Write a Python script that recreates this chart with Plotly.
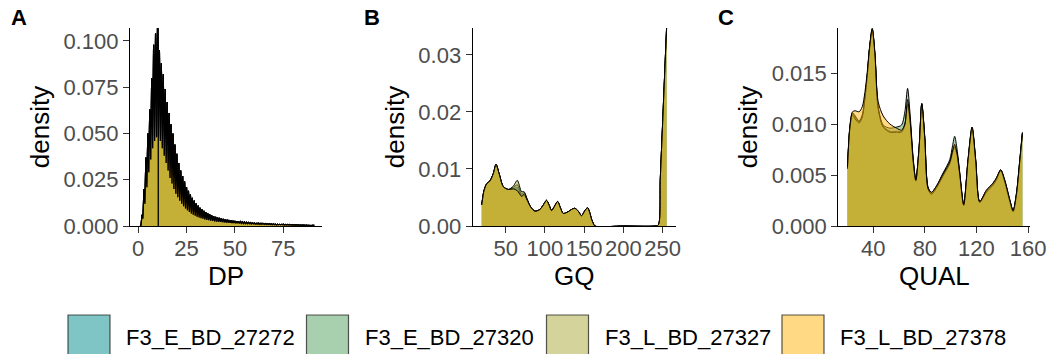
import plotly.graph_objects as go
from plotly.subplots import make_subplots

# ---------------- data ----------------
samples = ["F3_E_BD_27272", "F3_E_BD_27320", "F3_L_BD_27327", "F3_L_BD_27378"]
fill_colors = ["rgba(0,139,139,0.5)", "rgba(82,160,94,0.5)",
               "rgba(170,168,56,0.5)", "rgba(255,179,8,0.5)"]

# DP: integer depth -> spiky kernel density (peak at each integer, dip between)
dp_start = 1
dp_peak = [0.0005, 0.006, 0.020, 0.037, 0.050, 0.063, 0.080, 0.098, 0.104, 0.107,
           0.095, 0.088, 0.082, 0.074, 0.067, 0.061, 0.055, 0.050, 0.044, 0.039,
           0.034, 0.030, 0.027, 0.024, 0.021, 0.019, 0.017, 0.0152, 0.0137, 0.0123,
           0.0110, 0.0099, 0.0090, 0.0082, 0.0075, 0.0069, 0.0063, 0.0058, 0.0054, 0.0050,
           0.0047, 0.0044, 0.0041, 0.0038, 0.0036, 0.0034, 0.0032, 0.0030, 0.0028, 0.0027,
           0.0025, 0.0024, 0.0023, 0.0022, 0.0021, 0.0020, 0.0019, 0.0018, 0.0017, 0.0016,
           0.0015, 0.0015, 0.0014, 0.0014, 0.0013, 0.0013, 0.0012, 0.0012, 0.0011, 0.0011,
           0.0010, 0.0010, 0.0009, 0.0009, 0.0009, 0.0008, 0.0008, 0.0008, 0.0007, 0.0007,
           0.0007, 0.0006, 0.0006, 0.0006, 0.0005, 0.0005, 0.0005, 0.0004, 0.0004, 0.0004,
           0.0003]
dp_trough = [0.0003, 0.004, 0.012, 0.021, 0.029, 0.036, 0.042, 0.046, 0.048, 0.048,
             0.046, 0.042, 0.038, 0.034, 0.030, 0.026, 0.023, 0.020, 0.0175, 0.0155,
             0.0137, 0.0121, 0.0107, 0.0095, 0.0085, 0.0076, 0.0068, 0.0061, 0.0055, 0.0050,
             0.0046, 0.0042, 0.0039, 0.0036, 0.0033, 0.0031, 0.0029, 0.0027, 0.0025, 0.0024,
             0.0023, 0.0022, 0.0021, 0.0020, 0.0019, 0.0018, 0.0017, 0.0016, 0.0016, 0.0015,
             0.0015, 0.0014, 0.0014, 0.0013, 0.0013, 0.0012, 0.0012, 0.0011, 0.0011, 0.0010,
             0.0010, 0.0009, 0.0009, 0.0009, 0.0008, 0.0008, 0.0008, 0.0007, 0.0007, 0.0007,
             0.0006, 0.0006, 0.0006, 0.0006, 0.0005, 0.0005, 0.0005, 0.0005, 0.0004, 0.0004,
             0.0004, 0.0004, 0.0003, 0.0003, 0.0003, 0.0003, 0.0002, 0.0002, 0.0002, 0.0002]
dp_marker = 10.4

# GQ densities
gq_x = [19.5, 22.4, 25.8, 30, 34.3, 37.7, 42, 47, 53.4, 59.8,
        64.8, 70.3, 73.5, 77.5, 82, 87.3, 93.6, 98, 102.1, 105.5,
        108.5, 112, 116.1, 120, 123.3, 129.6, 134, 138.1, 142.5, 146.6,
        150.5, 154.3, 157, 159.4, 161.5, 163.6, 200, 240, 244.5, 247,
        250, 252.5, 255]
gq_shared_head = [0.0037, 0.0062, 0.0074, 0.0079, 0.0092, 0.0108, 0.0090, 0.0069, 0.0064]
gq_mid = {
    "F3_E_BD_27272": [0.0066, 0.0067, 0.0053, 0.0055, 0.0045],
    "F3_E_BD_27320": [0.0068, 0.0072, 0.0056, 0.0058, 0.0046],
    "F3_L_BD_27327": [0.0070, 0.0080, 0.0060, 0.0060, 0.0047],
    "F3_L_BD_27378": [0.0065, 0.0062, 0.0052, 0.0055, 0.0045],
}
gq_shared_tail = [0.0033, 0.0026, 0.0029, 0.0037, 0.0045, 0.0036,
                  0.0027, 0.0034, 0.0043, 0.0031, 0.0022, 0.0025, 0.0029, 0.0031, 0.0026, 0.0018,
                  0.0026, 0.0032, 0.0024, 0.0012, 0.0005, 0.0, 0.0, 0.0, 0.0002, 0.0083,
                  0.0182, 0.0265, 0.0347]

# QUAL densities
qual_x = [20, 21.9, 23.9, 26, 29, 31.5, 33.5, 35.5, 37, 39.2,
          41.3, 43.8, 47.7, 52.9, 58, 61.9, 64.5, 66.6, 68.4, 71,
          73, 75.6, 77.6, 79.9, 82.5, 85.1, 88.9, 94.1, 99.3, 101.5,
          103.1, 105, 107, 110.1, 113.5, 116.6, 119.4, 122.5, 127.7, 132.8,
          135.4, 138.8, 141.9, 145.8, 148.4, 151, 153.6, 155.6]
qual_y = {
    "F3_E_BD_27272": [.0057, .0097, .0110, .0107, .0102, .0108, .0125, .0150, .0173, .0193,
                      .0168, .0116, .0098, .0093, .0093, .0093, .0100, .0120, .0105, .0063,
                      .0045, .0078, .0120, .0087, .0037, .0032, .0038, .0050, .0062, .0073,
                      .0078, .0070, .0051, .0021, .0065, .0096, .0064, .0024, .0034, .0041,
                      .0046, .0055, .0044, .0025, .0015, .0031, .0064, .0091],
    "F3_E_BD_27320": [.0057, .0097, .0111, .0108, .0103, .0109, .0126, .0150, .0173, .0193,
                      .0168, .0117, .0099, .0096, .0097, .0099, .0112, .0135, .0112, .0066,
                      .0045, .0078, .0120, .0088, .0038, .0033, .0039, .0052, .0065, .0079,
                      .0088, .0075, .0053, .0021, .0065, .0097, .0065, .0024, .0035, .0042,
                      .0047, .0055, .0045, .0026, .0015, .0032, .0065, .0092],
    "F3_L_BD_27327": [.0056, .0096, .0109, .0105, .0101, .0107, .0124, .0149, .0172, .0192,
                      .0167, .0115, .0097, .0092, .0092, .0092, .0099, .0119, .0104, .0062,
                      .0044, .0077, .0119, .0086, .0036, .0031, .0037, .0049, .0061, .0072,
                      .0077, .0069, .0050, .0020, .0064, .0095, .0063, .0023, .0033, .0040,
                      .0045, .0054, .0043, .0024, .0014, .0030, .0063, .0090],
    "F3_L_BD_27378": [.0058, .0098, .0112, .0113, .0112, .0117, .0131, .0153, .0174, .0194,
                      .0170, .0122, .0108, .0100, .0096, .0094, .0100, .0124, .0107, .0064,
                      .0045, .0079, .0120, .0087, .0037, .0033, .0039, .0051, .0063, .0074,
                      .0080, .0071, .0052, .0021, .0066, .0097, .0065, .0024, .0035, .0042,
                      .0047, .0055, .0045, .0026, .0015, .0032, .0065, .0091],
}

# ---------------- figure ----------------
W, H = 1048, 354
FONT = "Liberation Sans, Arial, sans-serif"

fig = make_subplots(rows=1, cols=3)

dp_x, dp_y = [], []
for i, p in enumerate(dp_peak):
    dp_x.append(dp_start + i)
    dp_y.append(p)
    if i < len(dp_trough):
        dp_x.append(dp_start + i + 0.5)
        dp_y.append(dp_trough[i])

for name, fc in zip(samples, fill_colors):
    fig.add_trace(go.Scatter(x=dp_x, y=dp_y, mode="lines", fill="tozeroy",
                             fillcolor=fc, line=dict(color="black", width=1.2), name=name,
                             showlegend=False), row=1, col=1)
for name, fc in zip(samples, fill_colors):
    ys = gq_shared_head + gq_mid[name] + gq_shared_tail
    fig.add_trace(go.Scatter(x=gq_x, y=ys, mode="lines", fill="tozeroy",
                             fillcolor=fc, line=dict(color="black", width=1,
                                                     shape="spline", smoothing=0.8),
                             name=name, showlegend=False), row=1, col=2)
for name, fc in zip(samples, fill_colors):
    fig.add_trace(go.Scatter(x=qual_x, y=qual_y[name], mode="lines", fill="tozeroy",
                             fillcolor=fc, line=dict(color="black", width=1,
                                                     shape="spline", smoothing=0.8),
                             name=name, showlegend=False), row=1, col=3)

fig.add_vline(x=dp_marker, line=dict(color="black", width=1.3), row=1, col=1)

def px_x(v):
    return v / W

def px_y(v):
    return 1 - v / H

axis_common = dict(showline=True, linecolor="black", linewidth=1.3,
                   ticks="outside", ticklen=6, tickwidth=1.3, tickcolor="#333333",
                   showgrid=False, zeroline=False, automargin=False, tickangle=0,
                   tickfont=dict(family=FONT, size=22, color="#4D4D4D"),
                   title_font=dict(family=FONT, size=26, color="black"))

y_dom = [px_y(226), px_y(28)]
x_specs = [
    dict(domain=[px_x(130), px_x(322)], range=[-4.2, 95.0], tickvals=[0, 25, 50, 75], title="DP"),
    dict(domain=[px_x(472.7), px_x(676)], range=[8, 267], tickvals=[50, 100, 150, 200, 250], title="GQ"),
    dict(domain=[px_x(838.3), px_x(1030)], range=[12.9, 161.5], tickvals=[40, 80, 120, 160], title="QUAL"),
]
y_specs = [
    dict(range=[0, 0.107], tickvals=[0, 0.025, 0.05, 0.075, 0.1], tickformat=".3f"),
    dict(range=[0, 0.0347], tickvals=[0, 0.01, 0.02, 0.03], tickformat=".2f"),
    dict(range=[0, 0.01942], tickvals=[0, 0.005, 0.01, 0.015], tickformat=".3f"),
]
for i in range(3):
    xs = x_specs[i]
    ys = y_specs[i]
    fig.update_xaxes(domain=xs["domain"], range=xs["range"], tickvals=xs["tickvals"],
                     ticklabelstandoff=-4, row=1, col=i + 1, **axis_common)
    fig.update_yaxes(domain=y_dom, range=ys["range"], tickvals=ys["tickvals"],
                     tickformat=ys["tickformat"],
                     title=dict(text="density", standoff=6), row=1, col=i + 1, **axis_common)
    # x-axis title, centred under the panel
    fig.add_annotation(text=xs["title"], x=(xs["domain"][0] + xs["domain"][1]) / 2,
                       y=px_y(276), xref="paper", yref="paper",
                       xanchor="center", yanchor="middle", showarrow=False,
                       font=dict(family=FONT, size=26, color="black"))

# panel tags
for tag, x0 in zip(["A", "B", "C"], [9, 362, 716]):
    fig.add_annotation(text="<b>%s</b>" % tag, x=px_x(x0), y=px_y(18), xref="paper", yref="paper",
                       xanchor="left", yanchor="middle", showarrow=False,
                       font=dict(family=FONT, size=22, color="black"))

# legend drawn as keys + labels along the bottom
key_left = [68, 306.5, 546.5, 782]
key_w = 42
for name, fc, x0 in zip(samples, fill_colors, key_left):
    fig.add_shape(type="rect", xref="paper", yref="paper",
                  x0=px_x(x0), x1=px_x(x0 + key_w), y0=px_y(366), y1=px_y(315),
                  fillcolor=fc, line=dict(color="rgba(30,30,30,0.75)", width=1.2))
    fig.add_annotation(text=name, x=px_x(x0 + key_w + 14), y=px_y(337.5), xref="paper", yref="paper",
                       xanchor="left", yanchor="middle", showarrow=False,
                       font=dict(family=FONT, size=22, color="black"))

fig.update_layout(width=W, height=H, margin=dict(l=0, r=0, t=0, b=0),
                  plot_bgcolor="white", paper_bgcolor="white", showlegend=False)

fig.write_html("out.html")
